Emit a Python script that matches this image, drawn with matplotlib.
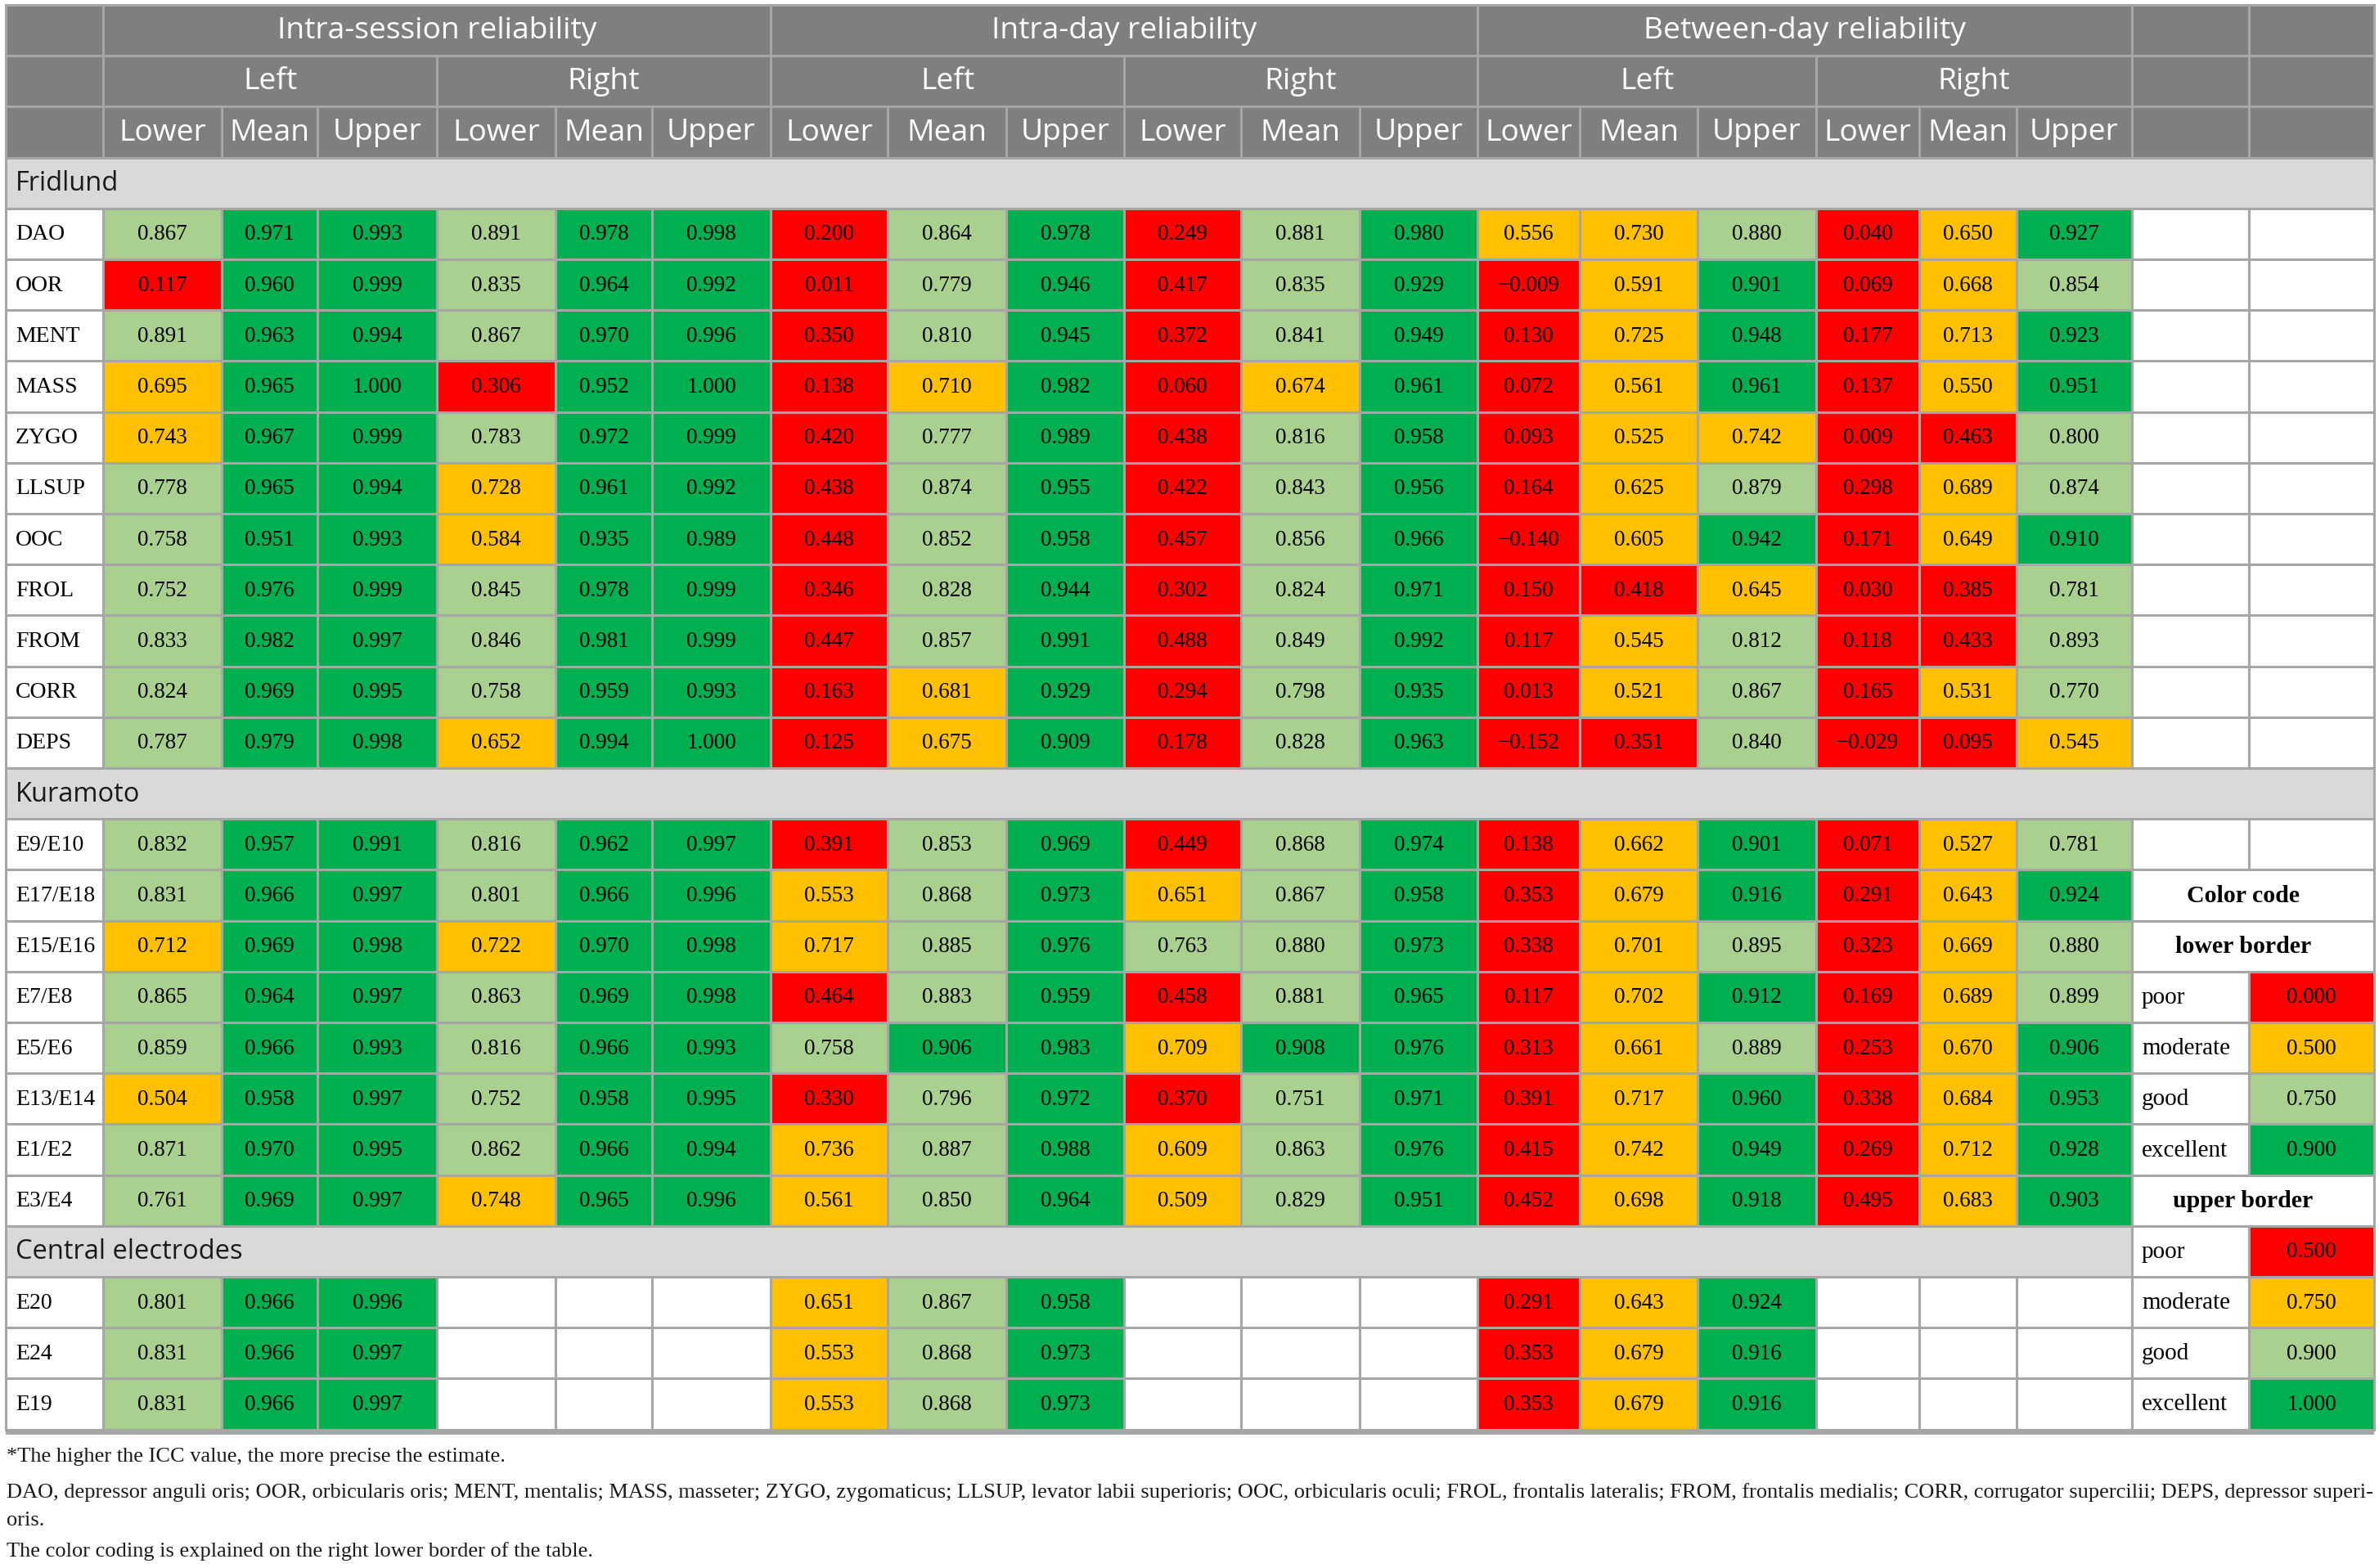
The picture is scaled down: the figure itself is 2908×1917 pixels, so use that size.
import matplotlib.pyplot as plt
from matplotlib.patches import Rectangle

# ---- data ----
fridlund_rows = ["DAO", "OOR", "MENT", "MASS", "ZYGO", "LLSUP", "OOC", "FROL", "FROM", "CORR", "DEPS"]
fridlund_session = [
    [0.867, 0.971, 0.993, 0.891, 0.978, 0.998],
    [0.117, 0.960, 0.999, 0.835, 0.964, 0.992],
    [0.891, 0.963, 0.994, 0.867, 0.970, 0.996],
    [0.695, 0.965, 1.000, 0.306, 0.952, 1.000],
    [0.743, 0.967, 0.999, 0.783, 0.972, 0.999],
    [0.778, 0.965, 0.994, 0.728, 0.961, 0.992],
    [0.758, 0.951, 0.993, 0.584, 0.935, 0.989],
    [0.752, 0.976, 0.999, 0.845, 0.978, 0.999],
    [0.833, 0.982, 0.997, 0.846, 0.981, 0.999],
    [0.824, 0.969, 0.995, 0.758, 0.959, 0.993],
    [0.787, 0.979, 0.998, 0.652, 0.994, 1.000],
]
fridlund_day = [
    [0.200, 0.864, 0.978, 0.249, 0.881, 0.980],
    [0.011, 0.779, 0.946, 0.417, 0.835, 0.929],
    [0.350, 0.810, 0.945, 0.372, 0.841, 0.949],
    [0.138, 0.710, 0.982, 0.060, 0.674, 0.961],
    [0.420, 0.777, 0.989, 0.438, 0.816, 0.958],
    [0.438, 0.874, 0.955, 0.422, 0.843, 0.956],
    [0.448, 0.852, 0.958, 0.457, 0.856, 0.966],
    [0.346, 0.828, 0.944, 0.302, 0.824, 0.971],
    [0.447, 0.857, 0.991, 0.488, 0.849, 0.992],
    [0.163, 0.681, 0.929, 0.294, 0.798, 0.935],
    [0.125, 0.675, 0.909, 0.178, 0.828, 0.963],
]
fridlund_between = [
    [0.556, 0.730, 0.880, 0.040, 0.650, 0.927],
    [-0.009, 0.591, 0.901, 0.069, 0.668, 0.854],
    [0.130, 0.725, 0.948, 0.177, 0.713, 0.923],
    [0.072, 0.561, 0.961, 0.137, 0.550, 0.951],
    [0.093, 0.525, 0.742, 0.009, 0.463, 0.800],
    [0.164, 0.625, 0.879, 0.298, 0.689, 0.874],
    [-0.140, 0.605, 0.942, 0.171, 0.649, 0.910],
    [0.150, 0.418, 0.645, 0.030, 0.385, 0.781],
    [0.117, 0.545, 0.812, 0.118, 0.433, 0.893],
    [0.013, 0.521, 0.867, 0.165, 0.531, 0.770],
    [-0.152, 0.351, 0.840, -0.029, 0.095, 0.545],
]

kuramoto_rows = ["E9/E10", "E17/E18", "E15/E16", "E7/E8", "E5/E6", "E13/E14", "E1/E2", "E3/E4"]
kuramoto_session = [
    [0.832, 0.957, 0.991, 0.816, 0.962, 0.997],
    [0.831, 0.966, 0.997, 0.801, 0.966, 0.996],
    [0.712, 0.969, 0.998, 0.722, 0.970, 0.998],
    [0.865, 0.964, 0.997, 0.863, 0.969, 0.998],
    [0.859, 0.966, 0.993, 0.816, 0.966, 0.993],
    [0.504, 0.958, 0.997, 0.752, 0.958, 0.995],
    [0.871, 0.970, 0.995, 0.862, 0.966, 0.994],
    [0.761, 0.969, 0.997, 0.748, 0.965, 0.996],
]
kuramoto_day = [
    [0.391, 0.853, 0.969, 0.449, 0.868, 0.974],
    [0.553, 0.868, 0.973, 0.651, 0.867, 0.958],
    [0.717, 0.885, 0.976, 0.763, 0.880, 0.973],
    [0.464, 0.883, 0.959, 0.458, 0.881, 0.965],
    [0.758, 0.906, 0.983, 0.709, 0.908, 0.976],
    [0.330, 0.796, 0.972, 0.370, 0.751, 0.971],
    [0.736, 0.887, 0.988, 0.609, 0.863, 0.976],
    [0.561, 0.850, 0.964, 0.509, 0.829, 0.951],
]
kuramoto_between = [
    [0.138, 0.662, 0.901, 0.071, 0.527, 0.781],
    [0.353, 0.679, 0.916, 0.291, 0.643, 0.924],
    [0.338, 0.701, 0.895, 0.323, 0.669, 0.880],
    [0.117, 0.702, 0.912, 0.169, 0.689, 0.899],
    [0.313, 0.661, 0.889, 0.253, 0.670, 0.906],
    [0.391, 0.717, 0.960, 0.338, 0.684, 0.953],
    [0.415, 0.742, 0.949, 0.269, 0.712, 0.928],
    [0.452, 0.698, 0.918, 0.495, 0.683, 0.903],
]

central_rows = ["E20", "E24", "E19"]
central_session = [[0.801, 0.966, 0.996], [0.831, 0.966, 0.997], [0.831, 0.966, 0.997]]
central_day = [[0.651, 0.867, 0.958], [0.553, 0.868, 0.973], [0.553, 0.868, 0.973]]
central_between = [[0.291, 0.643, 0.924], [0.353, 0.679, 0.916], [0.353, 0.679, 0.916]]

groups = ["Intra-session reliability", "Intra-day reliability", "Between-day reliability"]
sides = ["Left", "Right"]
stats = ["Lower", "Mean", "Upper"]

levels = ["poor", "moderate", "good", "excellent"]
lower_border = [0.000, 0.500, 0.750, 0.900]
upper_border = [0.500, 0.750, 0.900, 1.000]
level_colors = ["#ff0000", "#ffc000", "#a9d08e", "#00b050"]

footnotes = [
    "*The higher the ICC value, the more precise the estimate.",
    "DAO, depressor anguli oris; OOR, orbicularis oris; MENT, mentalis; MASS, masseter; ZYGO, zygomaticus; "
    "LLSUP, levator labii superioris; OOC, orbicularis oculi; FROL, frontalis lateralis; FROM, frontalis medialis; "
    "CORR, corrugator supercilii; DEPS, depressor superi-",
    "oris.",
    "The color coding is explained on the right lower border of the table.",
]

# ---- layout ----
W, H = 2908, 1917
xs = [7, 126, 271, 388, 534, 679, 797, 942, 1085, 1230, 1374, 1517, 1662,
      1806, 1931, 2075, 2220, 2346, 2465, 2606, 2749, 2902]
top = 6
rh = 62.2
HEAD = "#7f7f7f"
SECT = "#d9d9d9"
LINE = "#a6a6a6"
SANS = ["Open Sans", "DejaVu Sans"]
SERIF = ["Liberation Serif", "DejaVu Serif"]

fig = plt.figure(figsize=(W / 100, H / 100), dpi=100)
ax = fig.add_axes([0, 0, 1, 1])
ax.set_xlim(0, W)
ax.set_ylim(H, 0)
ax.axis("off")


def cell(c0, c1, r, face, text=None, color="black", family=SERIF, size=19.5,
         weight="normal", align="center", edge=LINE, dx=0):
    x0, x1 = xs[c0], xs[c1]
    y0 = top + r * rh
    ax.add_patch(Rectangle((x0, y0), x1 - x0, rh, facecolor=face,
                           edgecolor=edge, linewidth=2.2, zorder=1))
    if text is not None:
        if align == "center":
            tx, ha = (x0 + x1) / 2 + dx, "center"
        else:
            tx, ha = x0 + 12, "left"
        ax.text(tx, y0 + rh / 2 + 1, text, ha=ha, va="center", color=color,
                family=family, fontsize=size, weight=weight, zorder=3)


def level_of(v):
    k = 0
    for i, b in enumerate(lower_border):
        if v >= b:
            k = i
    return k


def fmt(v):
    s = f"{abs(v):.3f}"
    return ("\u2212" + s) if v < 0 else s


# header
for r in range(3):
    cell(0, 1, r, HEAD)
for g, name in enumerate(groups):
    c = 1 + g * 6
    cell(c, c + 6, 0, HEAD, name, "white", SANS, 26.8)
    for s, side in enumerate(sides):
        cs = c + s * 3
        cell(cs, cs + 3, 1, HEAD, side, "white", SANS, 26.8)
        for k, st in enumerate(stats):
            cell(cs + k, cs + k + 1, 2, HEAD, st, "white", SANS, 26.8)
for r in range(3):
    cell(19, 20, r, HEAD)
    cell(20, 21, r, HEAD)


def data_block(r0, names, session, day, between):
    for i, name in enumerate(names):
        r = r0 + i
        cell(0, 1, r, "white", name, align="left", size=20)
        for g, block in enumerate([session, day, between]):
            vals = block[i]
            for k in range(6):
                c = 1 + g * 6 + k
                if k < len(vals):
                    v = vals[k]
                    cell(c, c + 1, r, level_colors[level_of(v)], fmt(v))
                else:
                    cell(c, c + 1, r, "white")


def section(r, label, c_end):
    cell(0, c_end, r, SECT, label, "#1a1a1a", SANS, 23.5, align="left")


section(3, "Fridlund", 21)
data_block(4, fridlund_rows, fridlund_session, fridlund_day, fridlund_between)
for i in range(len(fridlund_rows)):
    cell(19, 20, 4 + i, "white")
    cell(20, 21, 4 + i, "white")

r_k = 4 + len(fridlund_rows)
section(r_k, "Kuramoto", 21)
data_block(r_k + 1, kuramoto_rows, kuramoto_session, kuramoto_day, kuramoto_between)

r_c = r_k + 1 + len(kuramoto_rows)
section(r_c, "Central electrodes", 19)
data_block(r_c + 1, central_rows, central_session, central_day, central_between)

# colour code legend in the last two columns
lr = r_k + 1
cell(19, 20, lr, "white")
cell(20, 21, lr, "white")
cell(19, 21, lr + 1, "white", "Color code", weight="bold", size=21.5, dx=-12)
cell(19, 21, lr + 2, "white", "lower border", weight="bold", size=21.5, dx=-12)
for i, lev in enumerate(levels):
    cell(19, 20, lr + 3 + i, "white", lev, align="left", size=21)
    cell(20, 21, lr + 3 + i, level_colors[i], f"{lower_border[i]:.3f}")
cell(19, 21, lr + 7, "white", "upper border", weight="bold", size=21.5, dx=-12)
for i, lev in enumerate(levels):
    cell(19, 20, lr + 8 + i, "white", lev, align="left", size=21)
    cell(20, 21, lr + 8 + i, level_colors[i], f"{upper_border[i]:.3f}")

# thick bottom rule
n_rows = r_c + 1 + len(central_rows)
y_end = top + n_rows * rh
ax.add_patch(Rectangle((xs[0], y_end), xs[-1] - xs[0], 6, facecolor=LINE,
                       edgecolor="none", zorder=4))

# footnotes
for y, line in zip([1781, 1825, 1859, 1897], footnotes):
    ax.text(8, y, line, ha="left", va="center", family=SERIF, fontsize=19,
            color="#1a1a1a")

fig.savefig("out.png", dpi=100)
